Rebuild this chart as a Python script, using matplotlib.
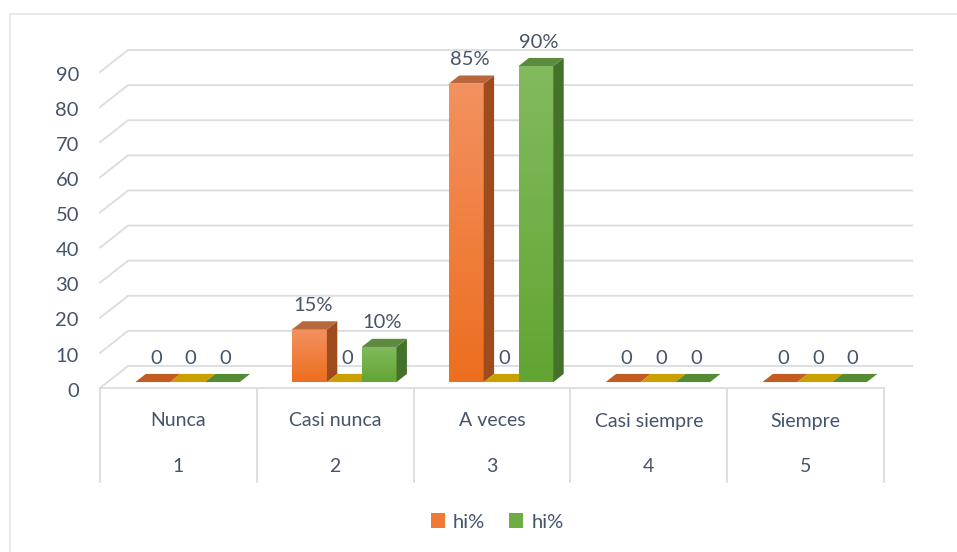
import numpy as np
import matplotlib
matplotlib.use("Agg")
import matplotlib.pyplot as plt
from matplotlib.colors import LinearSegmentedColormap
from matplotlib.patches import Rectangle, Patch

# datos
categorias = ["Nunca", "Casi nunca", "A veces", "Casi siempre", "Siempre"]
numeros = ["1", "2", "3", "4", "5"]
hi_naranja = [0, 15, 85, 0, 0]
hi_amarillo = [0, 0, 0, 0, 0]
hi_verde = [0, 10, 90, 0, 0]
serie_nombres = ["hi%", "hi%"]

plt.rcParams['font.family'] = ['Lato', 'DejaVu Sans']
TXT = '#44546A'
GRID = '#D9DCE1'

# colores: (frente arriba, frente abajo, lado, tapa, tapa cero)
estilos = [
    ('#F39160', '#ED6E1E', '#9E4C1D', '#B8683D', '#C45C22'),
    ('#D4AA10', '#C49A00', '#8C6E00', '#C9A000', '#C9A000'),
    ('#82BA5E', '#62A532', '#44722A', '#5E8A40', '#548B33'),
]

fig = plt.figure(figsize=(9.57, 5.52), dpi=100)
W, H = 957, 552
ax = fig.add_axes([100 / W, 1 - 388 / H, 812 / W, 338 / H])

# perspectiva (en unidades de datos)
px_x = 782 / 5.0
px_y = 316 / 90.0
DX = 28 / px_x
DY = 22 / px_y
ax.set_xlim(0.5, 5.5 + DX)
ax.set_ylim(0, 90 + DY)
ax.axis('off')

# borde del grafico
fig.patches.append(Rectangle((10 / W, -0.1), 1.2, 1 - 14 / H + 0.1, transform=fig.transFigure,
                             fill=False, edgecolor='#E3E6EA', linewidth=1.2))

# pared del fondo
for v in range(0, 100, 10):
    ax.plot([0.5, 0.5 + DX, 5.5 + DX], [v, v + DY, v + DY], color=GRID, lw=1.3,
            clip_on=False, zorder=1)
    ax.text(0.5 - 21 / px_x, v - 0.9, str(v), ha='right', va='center', fontsize=14.5,
            color=TXT, clip_on=False)

# tabla de categorias
ax.plot([0.5, 5.5], [0, 0], color=GRID, lw=1.3, clip_on=False, zorder=1)
for i in range(6):
    ax.plot([0.5 + i, 0.5 + i], [0, -94 / px_y], color=GRID, lw=1.3, clip_on=False, zorder=1)
for i, (c, n) in enumerate(zip(categorias, numeros)):
    ax.text(i + 1, -33 / px_y, c, ha='center', va='center', fontsize=14, color=TXT)
    ax.text(i + 1, -79 / px_y, n, ha='center', va='center', fontsize=14, color=TXT)

# barras 3d
f0 = 0.27
ft = 0.37
w = 0.222
b = f0 * DY
tdx, tdy = ft * DX, ft * DY
z = 3
for i in range(5):
    for k, serie in enumerate([hi_naranja, hi_amarillo, hi_verde]):
        v = serie[i]
        x0 = i + 1 + (k - 1.5) * w + f0 * DX + 0.01
        ftop, fbot, lado, tapa, tapa0 = estilos[k]
        if v > 0:
            bar = ax.bar(x0, v, width=w, bottom=b, align='edge', color=fbot,
                         linewidth=0, zorder=z)[0]
            cmap = LinearSegmentedColormap.from_list('g', [fbot, ftop])
            grad = np.linspace(0, 1, 100).reshape(-1, 1)
            im = ax.imshow(grad, extent=[x0, x0 + w, b, b + v], origin='lower', cmap=cmap,
                           aspect='auto', zorder=z + 0.1)
            im.set_clip_path(bar)
            ax.fill([x0 + w, x0 + w + tdx, x0 + w + tdx, x0 + w],
                    [b, b + tdy, b + v + tdy, b + v], color=lado, lw=0, zorder=z + 0.2)
            ax.fill([x0, x0 + w, x0 + w + tdx, x0 + tdx],
                    [b + v, b + v, b + v + tdy, b + v + tdy], color=tapa, lw=0, zorder=z + 0.2)
            etiqueta = f"{v:g}%"
        else:
            ax.fill([x0, x0 + w, x0 + w + tdx, x0 + tdx],
                    [b, b, b + tdy, b + tdy], color=tapa0, lw=0, zorder=z + 0.2)
            etiqueta = "0"
        ax.text(x0 + w / 2 + 0.3 * tdx, b + v + 24 / px_y, etiqueta, ha='center',
                va='center', fontsize=14.5, color=TXT, zorder=10)
        z += 1

ax.set_xlim(0.5, 5.5 + DX)
ax.set_ylim(0, 90 + DY)

handles = [Patch(facecolor='#EF7A35', edgecolor='none'),
           Patch(facecolor='#6EAD44', edgecolor='none')]
fig.legend(handles, serie_nombres, loc='center', bbox_to_anchor=(497 / W, 1 - 522 / H),
           ncol=2, frameon=False, fontsize=14.5, labelcolor=TXT, handlelength=0.7,
           handleheight=0.7, handletextpad=0.4, columnspacing=1.2)

fig.savefig('out.png', dpi=100)
